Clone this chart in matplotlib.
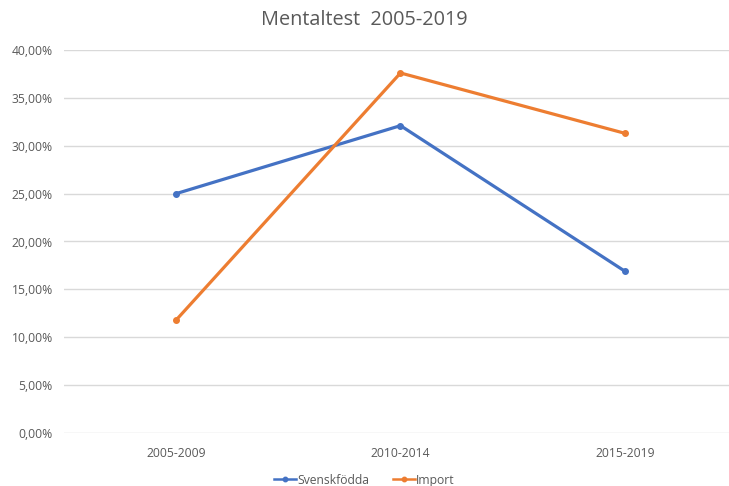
import matplotlib.pyplot as plt
from matplotlib.ticker import FuncFormatter

periods = ["2005-2009", "2010-2014", "2015-2019"]
svenskfodda = [0.250, 0.321, 0.169]
import_vals = [0.118, 0.376, 0.313]

plt.rcParams['font.family'] = ['Open Sans', 'DejaVu Sans']
txt = '#595959'

fig = plt.figure(figsize=(7.29, 4.86), dpi=100)
ax = fig.add_axes([64 / 729, 53 / 486, 673 / 729, 383 / 486])

x = range(len(periods))
ax.plot(x, svenskfodda, color='#4472C4', lw=2.3, marker='o', ms=4, label='Svenskfödda')
ax.plot(x, import_vals, color='#ED7D31', lw=2.3, marker='o', ms=4, label='Import')

ax.set_xlim(-0.5, 2.5)
ax.set_ylim(0, 0.40)
ax.set_yticks([i * 0.05 for i in range(9)])
ax.yaxis.set_major_formatter(FuncFormatter(lambda v, p: f"{v * 100:.2f}%".replace('.', ',')))
ax.set_xticks(list(x))
ax.set_xticklabels(periods)
ax.grid(axis='y', color='#D9D9D9', lw=1)
ax.set_axisbelow(True)
for s in ax.spines.values():
    s.set_visible(False)
ax.tick_params(length=0, colors=txt, labelsize=8.7)
ax.tick_params(axis='x', pad=10)
ax.tick_params(axis='y', pad=8)

fig.text(0.5, 0.958, "Mentaltest  2005-2019", ha='center', va='center', fontsize=14.3, color=txt)
leg = fig.legend(loc='center', bbox_to_anchor=(0.5, 0.012), ncol=2, frameon=False,
                 fontsize=8.7, labelcolor=txt, handlelength=1.8, handletextpad=0.1,
                 columnspacing=2, markerscale=0.8)
for h in leg.get_lines():
    h.set_linewidth(1.8)

fig.savefig('out.png', dpi=100)
